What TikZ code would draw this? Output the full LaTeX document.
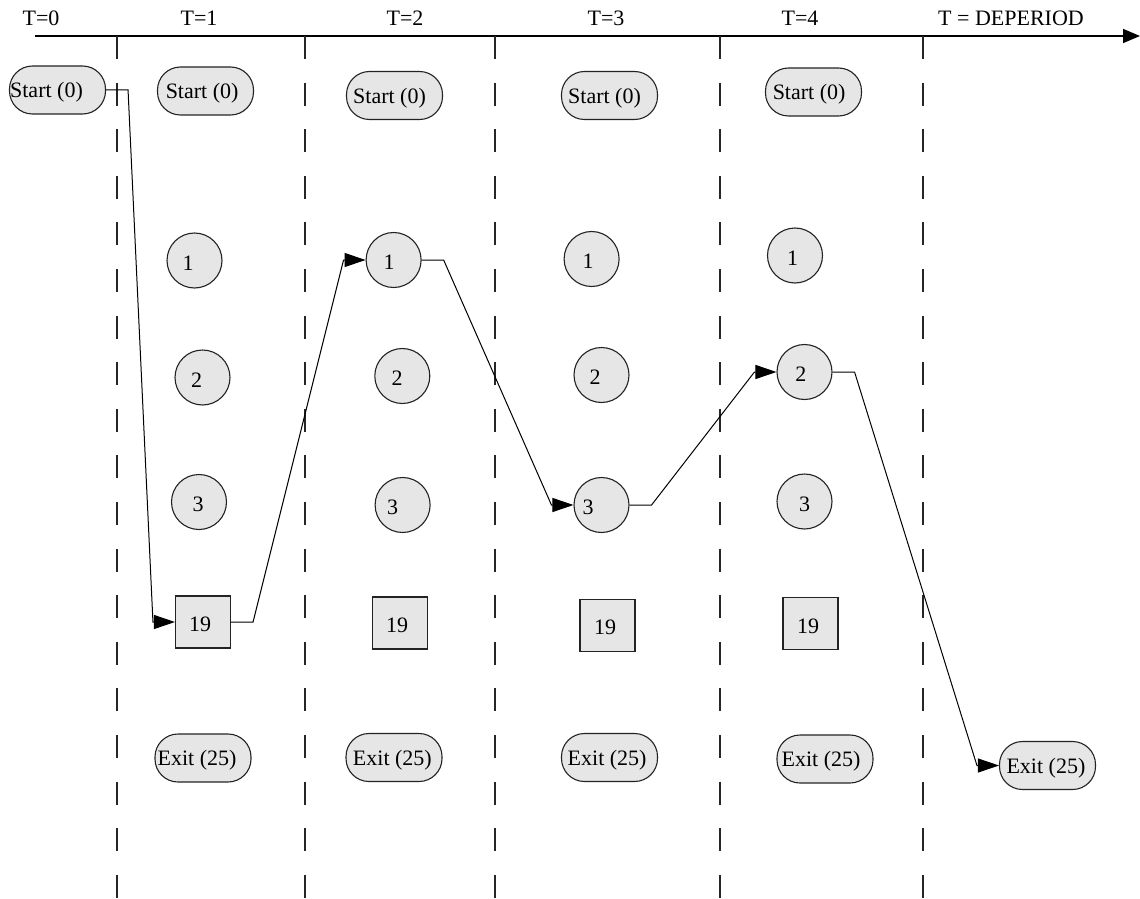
\documentclass[tikz,border=0pt]{standalone}
\usepackage{fontspec}
\setmainfont{Liberation Serif}
\usetikzlibrary{arrows.meta,calc}
\definecolor{nodefill}{RGB}{230,230,230}
\definecolor{nodeline}{RGB}{35,35,35}

\begin{document}
\begin{tikzpicture}[x=0.5pt,y=-0.5pt,
  font=\fontsize{11}{13}\selectfont,
  every label/.style={inner sep=0pt, yshift=-1.2pt},
  terminal/.style={rectangle, rounded corners=11.5pt, draw=nodeline, fill=nodefill, line width=0.55pt,
    minimum width=48pt, minimum height=24pt, inner sep=0pt},
  loc/.style={circle, draw=nodeline, fill=nodefill, line width=0.55pt,
    minimum size=27.5pt, inner sep=0pt},
  hub/.style={rectangle, draw=nodeline, fill=nodefill, line width=0.55pt,
    minimum width=27.5pt, minimum height=26pt, inner sep=0pt},
  slice/.style={draw=black!85, line width=0.6pt, dash pattern=on 11.5pt off 11.8pt},
  axis/.style={line width=0.8pt, -{Triangle[length=8.5pt,width=7pt]}},
  flow/.style={line width=0.5pt, -{Triangle[length=10.5pt,width=7pt]}},
  tick/.style={anchor=base, inner sep=0pt}
]
\useasboundingbox (0,0) rectangle (1140,899);

% time axis and period boundaries
\coordinate (axstart) at (35,36);
\coordinate (axend) at (1140,36);
\draw[axis] (axstart) -- (axend);
\foreach \x in {117,305,495,720,923}
  \draw[slice] (\x,36) -- (\x,899);

\node[tick] (lt0) at (41,26) {T=0};
\node[tick] (lt1) at (199,26) {T=1};
\node[tick] (lt2) at (405,26) {T=2};
\node[tick] (lt3) at (606,26) {T=3};
\node[tick] (lt4) at (800,26) {T=4};
\node[tick] (lt5) at (1011,26) {T = DEPERIOD};

% T=0
\node[terminal, label={[xshift=-5.5pt]center:Start (0)}] (s0) at (57.5,90) {};

% T=1
\node[terminal, label={[xshift=-1.7pt]center:Start (0)}] (st1) at (205.5,91) {};
\node[loc, label={[xshift=-3.2pt]center:1}] (a1) at (194.5,260.5) {};
\node[loc, label={[xshift=-3pt]center:2}] (b1) at (202.5,377.5) {};
\node[loc, label={[xshift=-0.5pt]center:3}] (c1) at (199,502) {};
\node[hub, label={[xshift=-1.5pt]center:19}] (q1) at (203,622) {};
\node[terminal, label={[xshift=-3pt]center:Exit (25)}] (e1) at (203,758) {};

% T=2
\node[terminal, label={[xshift=-2.5pt]center:Start (0)}] (st2) at (394.5,95.5) {};
\node[loc, label={[xshift=-2.3pt]center:1}] (a2) at (393.6,260) {};
\node[loc, label={[xshift=-2.6pt]center:2}] (b2) at (402.3,376) {};
\node[loc, label={[xshift=-5pt]center:3}] (c2) at (402.6,505) {};
\node[hub, label={[xshift=-1.3pt]center:19}] (q2) at (399.6,623) {};
\node[terminal, label={[xshift=-0.8pt]center:Exit (25)}] (e2) at (394,757.5) {};

% T=3
\node[terminal, label={[xshift=-2.5pt]center:Start (0)}] (st3) at (609.5,95.5) {};
\node[loc, label={[xshift=-1.8pt]center:1}] (a3) at (591.6,259) {};
\node[loc, label={[xshift=-3.2pt]center:2}] (b3) at (601.5,375) {};
\node[loc, label={[xshift=-6.7pt]center:3}] (c3) at (601.5,505) {};
\node[hub, label={[xshift=-1.2pt]center:19}] (q3) at (607.5,625.3) {};
\node[terminal, label={[xshift=-1.2pt]center:Exit (25)}] (e3) at (609.5,757.5) {};

% T=4
\node[terminal, label={[xshift=-2.2pt]center:Start (0)}] (st4) at (813.5,92) {};
\node[loc, label={[xshift=-1.2pt]center:1}] (a4) at (795,255.5) {};
\node[loc, label={[xshift=-1.8pt]center:2}] (b4) at (804.5,372) {};
\node[loc, label={center:3}] (c4) at (804.5,501.5) {};
\node[hub, label={[xshift=-1.2pt]center:19}] (q4) at (810.5,623.5) {};
\node[terminal, label={[xshift=-2pt]center:Exit (25)}] (e4) at (825,759) {};

% T = DEPERIOD
\node[terminal, label={[xshift=-0.8pt]center:Exit (25)}] (e5) at (1047.5,765.5) {};

% route through the time-expanded network
\draw[flow] (s0.east) -- ++(22,0) -- ($(q1.west)+(-22,0)$) -- (q1.west);
\draw[flow] (q1.east) -- ++(22,0) -- ($(a2.west)+(-22,0)$) -- (a2.west);
\draw[flow] (a2.east) -- ++(22,0) -- ($(c3.west)+(-22,0)$) -- (c3.west);
\draw[flow] (c3.east) -- ++(22,0) -- ($(b4.west)+(-22,0)$) -- (b4.west);
\draw[flow] (b4.east) -- ++(22,0) -- ($(e5.west)+(-22,0)$) -- (e5.west);
\end{tikzpicture}
\end{document}
